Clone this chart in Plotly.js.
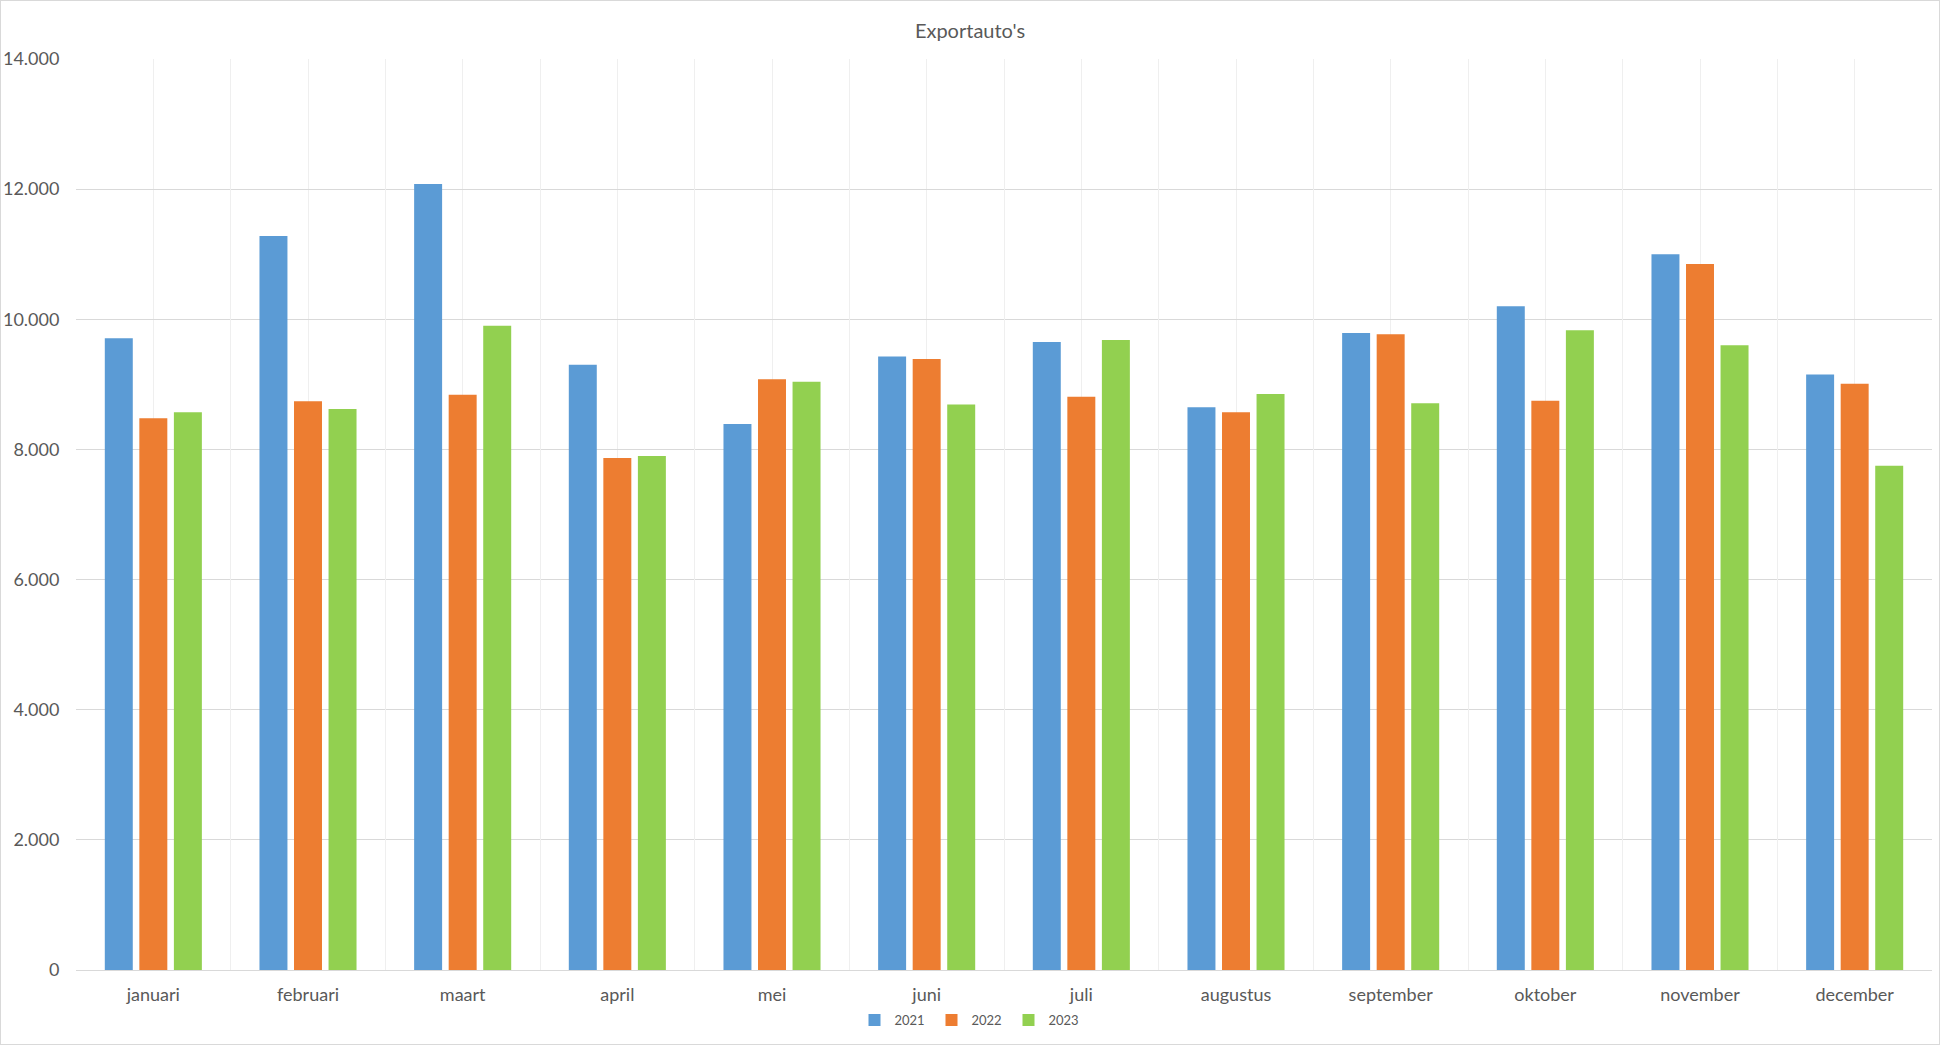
<!DOCTYPE html>
<html>
<head>
<meta charset="utf-8">
<script src="https://cdn.plot.ly/plotly-3.0.1.min.js"></script>
<style>
  body { margin: 0; background: #fff; }
  #chart { width: 1940px; height: 1045px; box-sizing: border-box; border: 1px solid #d9d9d9; }
</style>
</head>
<body>
<div id="chart"></div>
<script>
// months on the x axis
const months = ['januari', 'februari', 'maart', 'april', 'mei', 'juni',
                'juli', 'augustus', 'september', 'oktober', 'november', 'december'];

// export cars per month
const y2021 = [9710, 11280, 12080, 9300, 8390, 9430, 9650, 8650, 9790, 10200, 11000, 9150];
const y2022 = [8480, 8740, 8840, 7870, 9080, 9390, 8810, 8570, 9770, 8750, 10850, 9010];
const y2023 = [8570, 8620, 9900, 7900, 9040, 8690, 9680, 8850, 8710, 9830, 9600, 7750];

const years = ['2021', '2022', '2023'];
const colors = ['#5b9bd5', '#ed7d31', '#92d050'];

const textColor = '#595959';
const font = 'Lato, "Open Sans", sans-serif';

let data = [y2021, y2022, y2023].map(function(vals, i) {
    return {
        x: months,
        y: vals,
        name: years[i],
        type: 'bar',
        marker: {color: colors[i]},
        hoverinfo: 'x+y+name'
    };
});

// empty helper trace so the second x axis (month separators) gets drawn
data.unshift({
    x: [], y: [],
    type: 'scatter',
    xaxis: 'x2',
    showlegend: false,
    hoverinfo: 'skip'
});

let layout = {
    width: 1938,
    height: 1043,
    margin: {l: 75, r: 7, t: 58, b: 74},
    paper_bgcolor: '#ffffff',
    plot_bgcolor: '#ffffff',
    separators: ',.',
    font: {family: font, color: textColor, size: 18},
    title: {
        text: "Exportauto's",
        font: {family: font, size: 20, color: textColor},
        x: 0.5, xref: 'container', xanchor: 'center',
        y: 0.971, yref: 'container', yanchor: 'middle'
    },
    barmode: 'group',
    bargap: 0.33,
    bargroupgap: 0.19,
    xaxis: {
        type: 'category',
        showgrid: true,
        gridcolor: '#efefef',
        showline: true,
        linecolor: '#d9d9d9',
        ticks: 'outside',
        ticklen: 8,
        tickcolor: 'rgba(0,0,0,0)',
        tickfont: {size: 18, color: textColor}
    },
    // extra axis only to draw the faint lines between the months
    xaxis2: {
        type: 'linear',
        overlaying: 'x',
        anchor: 'y',
        range: [-0.5, months.length - 0.5],
        tick0: 0.5,
        dtick: 1,
        showgrid: true,
        gridcolor: '#efefef',
        showticklabels: false,
        ticks: '',
        zeroline: false,
        showline: false,
        fixedrange: true
    },
    yaxis: {
        range: [0, 14000],
        dtick: 2000,
        tickformat: ',d',
        showgrid: true,
        gridcolor: '#d9d9d9',
        zeroline: false,
        showline: false,
        ticks: 'outside',
        ticklen: 12,
        tickcolor: 'rgba(0,0,0,0)',
        tickfont: {size: 18, color: textColor}
    },
    showlegend: true,
    legend: {
        orientation: 'h',
        x: 0.5, xref: 'container', xanchor: 'center',
        y: 0.023, yref: 'container', yanchor: 'middle',
        font: {size: 13, color: textColor},
        itemwidth: 30,
        entrywidth: 32,
        tracegroupgap: 0
    }
};

Plotly.newPlot('chart', data, layout, {displayModeBar: false});
</script>
</body>
</html>
